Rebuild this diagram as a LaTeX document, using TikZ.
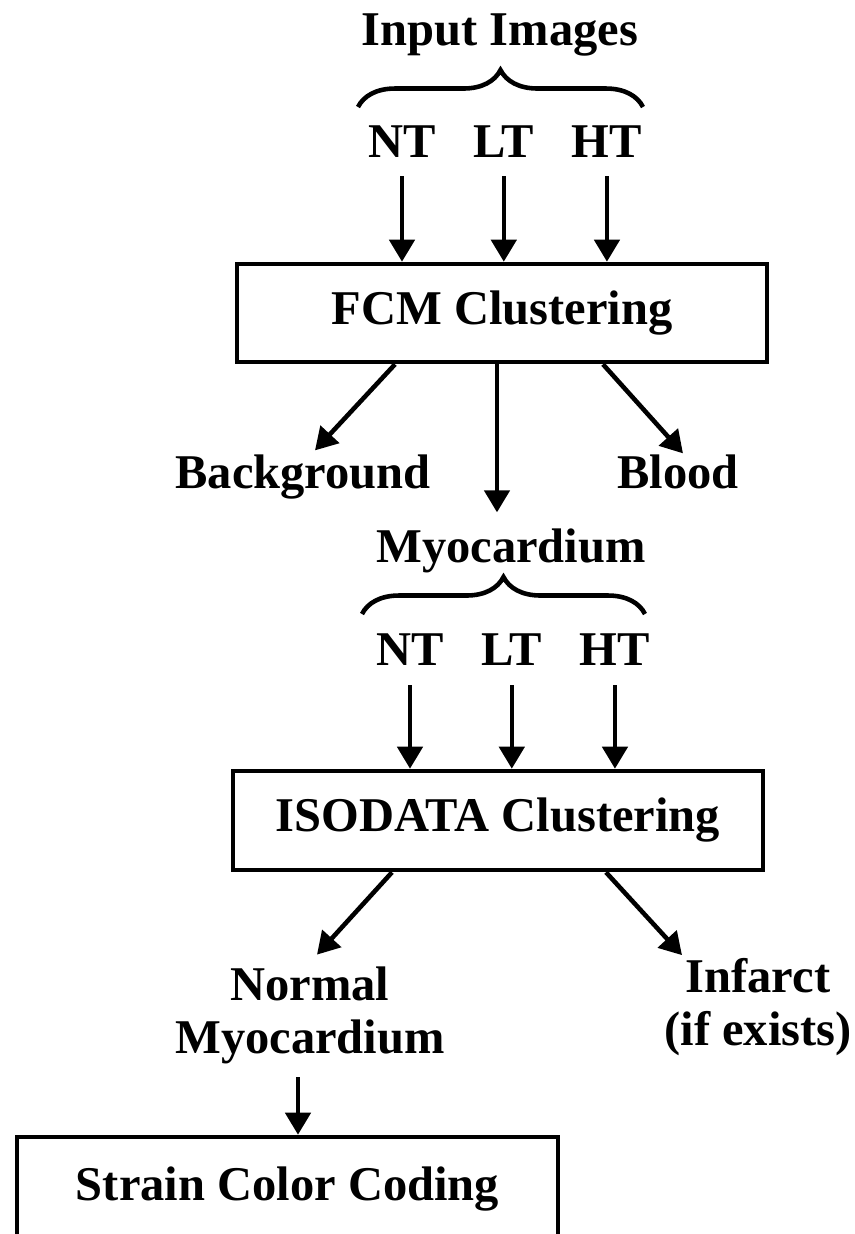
\documentclass[tikz,border=0pt]{standalone}
\usepackage{fontspec}
\setmainfont{Liberation Serif}
\usetikzlibrary{arrows.meta, positioning, decorations.pathreplacing}

\begin{document}
\begin{tikzpicture}[>={Triangle[length=0.22cm, width=0.25cm]}, line width=1.3pt, node distance=0.10cm, every node/.style={font=\bfseries\fontsize{13.8}{15}\selectfont}]
  \useasboundingbox (0,0) rectangle (8.55,-12.34);

  % FCM stage
  \node[anchor=base] (inp) at (5.00,-0.45) {Input Images};
  \coordinate (br1a) at (3.58,-1.07);
  \coordinate (br1b) at (6.43,-1.07);
  \draw[decorate, decoration={brace, amplitude=0.37cm}] (br1a) -- (br1b);
  \node[anchor=base] (nt1) at (4.02,-1.57) {NT};
  \node[base right=of nt1] (lt1) {LT};
  \node[base right=of lt1] (ht1) {HT};
  \node[draw, minimum width=5.30cm, minimum height=0.98cm] (fcm) at (5.02,-3.13) {FCM Clustering};
  \draw[->, shorten <=0.05cm] (nt1.south) -- (nt1.south |- fcm.north);
  \draw[->, shorten <=0.05cm] (lt1.south) -- (lt1.south |- fcm.north);
  \draw[->, shorten <=0.05cm] (ht1.south) -- (ht1.south |- fcm.north);
  \node[anchor=base] (bg) at (3.03,-4.88) {Background};
  \node[anchor=base] (blood) at (6.78,-4.88) {Blood};
  \node[anchor=base] (myo) at (5.11,-5.62) {Myocardium};
  \draw[->] ([xshift=-1.07cm]fcm.south) -- ([shift={(0.12cm,-0.10cm)}]bg.north);
  \draw[->, shorten >=0.02cm] ([xshift=-0.05cm]fcm.south) -- ([xshift=-0.05cm]fcm.south |- myo.north);
  \draw[->] ([xshift=1.01cm]fcm.south) -- ([shift={(0.05cm,-0.13cm)}]blood.north);

  % ISODATA stage
  \coordinate (br2a) at (3.62,-6.14);
  \coordinate (br2b) at (6.45,-6.14);
  \draw[decorate, decoration={brace, amplitude=0.37cm}] (br2a) -- (br2b);
  \node[anchor=base] (nt2) at (4.10,-6.65) {NT};
  \node[base right=of nt2] (lt2) {LT};
  \node[base right=of lt2] (ht2) {HT};
  \node[draw, minimum width=5.30cm, minimum height=0.99cm] (iso) at (4.98,-8.205) {ISODATA Clustering};
  \draw[->, shorten <=0.06cm] (nt2.south) -- (nt2.south |- iso.north);
  \draw[->, shorten <=0.06cm] (lt2.south) -- (lt2.south |- iso.north);
  \draw[->, shorten <=0.06cm] (ht2.south) -- (ht2.south |- iso.north);
  \node[anchor=base, align=center] (nm) at (3.10,-10.53) {Normal\\Myocardium};
  \node[anchor=base, align=center] (inf) at (7.58,-10.45) {Infarct\\(if exists)};
  \draw[->] ([xshift=-1.06cm]iso.south) -- ([shift={(0.07cm,-0.02cm)}]nm.north);
  \draw[->] ([xshift=1.08cm]iso.south) -- ([shift={(-0.76cm,-0.11cm)}]inf.north);

  % output
  \node[draw, minimum width=5.41cm, minimum height=1.04cm] (strain) at (2.875,-11.89) {Strain Color Coding};
  \draw[->] ([xshift=-0.12cm]nm.south) -- ([xshift=-0.12cm]nm.south |- strain.north);
\end{tikzpicture}
\end{document}
